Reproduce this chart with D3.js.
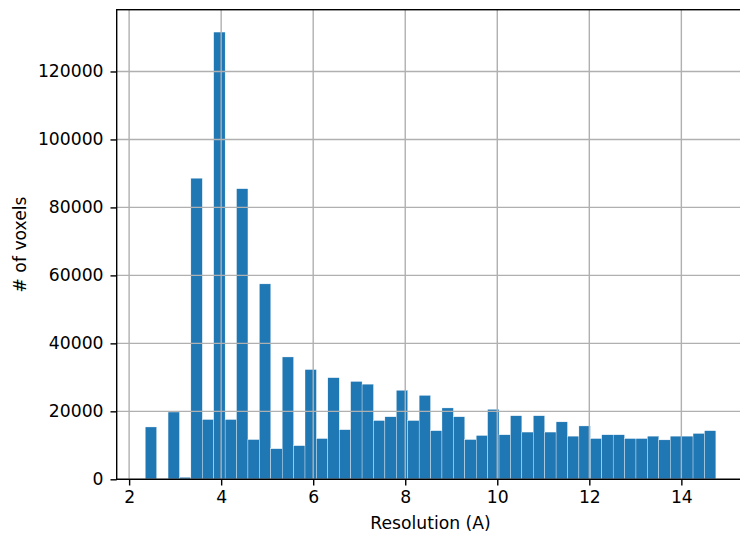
<!DOCTYPE html>
<html>
<head>
<meta charset="utf-8">
<script src="https://cdn.jsdelivr.net/npm/d3@7/dist/d3.min.js"></script>
<style>
  body { margin: 0; background: #fff; }
  svg { display: block; }
  text { font-family: "DejaVu Sans", sans-serif; fill: #000; }
</style>
</head>
<body>
<svg id="chart" width="740" height="535"></svg>
<script>
// Histogram: 50 equal-width bins between the data min and max
const dataMin = 2.35;
const dataMax = 14.75;
const counts = [
  15400, 0, 19800, 600, 88600, 17600, 131600, 17600, 85500, 11700,
  57500, 9000, 36000, 9900, 32300, 12000, 29900, 14600, 28800, 28000,
  17300, 18400, 26200, 17300, 24700, 14300, 21000, 18400, 11700, 12900,
  20600, 13100, 18700, 13900, 18700, 13900, 16900, 12700, 15700, 12000,
  13100, 13100, 12000, 12000, 12700, 11600, 12700, 12700, 13500, 14300
];
const xTicks = [2, 4, 6, 8, 10, 12, 14];
const yTicks = [0, 20000, 40000, 60000, 80000, 100000, 120000];
const xLabel = "Resolution (A)";
const yLabel = "# of voxels";

(function () {
const FS = "17.2px";
const nBins = counts.length;
const binW = (dataMax - dataMin) / nBins;
const bins = counts.map((c, i) => ({x0: dataMin + i * binW, x1: dataMin + (i + 1) * binW, c}));

const pL = 116.7, pR = 744.4, pT = 9.7, pB = 479.3;
const span = dataMax - dataMin;
const x = d3.scaleLinear().domain([dataMin - 0.05 * span, dataMax + 0.05 * span]).range([pL, pR]);
const yMax = d3.max(counts) * 1.05;
const y = d3.scaleLinear().domain([0, yMax]).range([pB, pT]);

const svg = d3.select("#chart");

// bars
svg.append("g").selectAll("rect").data(bins).enter().append("rect")
  .attr("x", d => x(d.x0))
  .attr("width", d => x(d.x1) - x(d.x0))
  .attr("y", d => y(d.c))
  .attr("height", d => y(0) - y(d.c))
  .attr("fill", "#1f77b4")
  .attr("stroke", "#ffffff")
  .attr("stroke-width", 0.35);

// grid (above bars, as matplotlib default)
const grid = svg.append("g");
grid.selectAll("line.gx").data(xTicks).enter().append("line")
  .attr("x1", d => x(d)).attr("x2", d => x(d))
  .attr("y1", pT).attr("y2", pB)
  .attr("stroke", "#b0b0b0").attr("stroke-width", 1.4);
grid.selectAll("line.gy").data(yTicks).enter().append("line")
  .attr("y1", d => y(d)).attr("y2", d => y(d))
  .attr("x1", pL).attr("x2", pR)
  .attr("stroke", "#b0b0b0").attr("stroke-width", 1.4);

// axes
const xAxis = d3.axisBottom(x).tickValues(xTicks).tickSize(6.2).tickPadding(5.5).tickFormat(d3.format("d"));
const yAxis = d3.axisLeft(y).tickValues(yTicks).tickSize(6.2).tickPadding(7).tickFormat(d3.format("d"));

const gx = svg.append("g").attr("transform", `translate(0,${pB})`).call(xAxis);
const gy = svg.append("g").attr("transform", `translate(${pL},0)`).call(yAxis);
[gx, gy].forEach(g => {
  g.select(".domain").remove();
  g.selectAll(".tick line").attr("stroke", "#000").attr("stroke-width", 1.4);
  g.selectAll(".tick text").attr("font-size", FS).attr("font-family", "DejaVu Sans, sans-serif").attr("fill", "#000");
});

// spines
svg.append("rect")
  .attr("x", pL).attr("y", pT)
  .attr("width", pR - pL).attr("height", pB - pT)
  .attr("fill", "none").attr("stroke", "#000").attr("stroke-width", 1.4);

// labels
svg.append("text").attr("x", (pL + pR) / 2).attr("y", 529)
  .attr("text-anchor", "middle").attr("font-size", FS).text(xLabel);
svg.append("text").attr("transform", `translate(26,${(pT + pB) / 2}) rotate(-90)`)
  .attr("text-anchor", "middle").attr("font-size", FS).text(yLabel);
})();
</script>
</body>
</html>
